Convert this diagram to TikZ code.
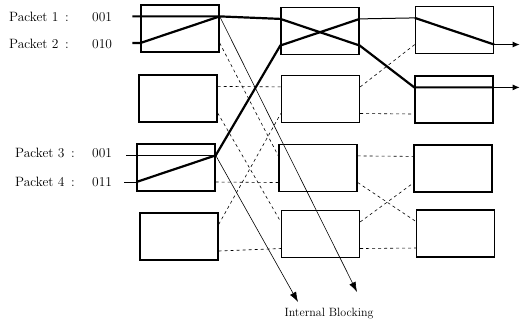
\documentclass[tikz,border=0pt]{standalone}
\usetikzlibrary{calc,arrows.meta}
\begin{document}
\begin{tikzpicture}[x=1pt,y=-1pt,
  sw/.style={draw, line width=1.4pt, minimum width=78pt, minimum height=47pt, inner sep=0pt},
  pkt/.style={line width=2.2pt},
  thinl/.style={line width=0.6pt},
  medl/.style={line width=1pt},
  dsh/.style={line width=0.6pt, dash pattern=on 3pt off 3pt},
  lbl/.style={font=\fontsize{13.5}{15}\selectfont, inner sep=0pt, anchor=west},
  ibtip/.style={-{Latex[length=10pt,width=7pt]}},
  outtip/.style={-{Latex[length=7pt,width=6pt]}}
]
\useasboundingbox (0,0) rectangle (520,323);

\node[sw] (a1) at (180,28.5) {};
\node[sw] (a2) at (178,98.5) {};
\node[sw] (a3) at (176,167.5) {};
\node[sw] (a4) at (179,236.5) {};
\node[sw] (b1) at (320,31) {};
\node[sw] (b2) at (320.5,99) {};
\node[sw] (b3) at (318,168) {};
\node[sw] (b4) at (320.5,234) {};
\node[sw] (c1) at (454.5,30) {};
\node[sw] (c2) at (454,99.5) {};
\node[sw] (c3) at (453,168.5) {};
\node[sw] (c4) at (455.5,233.5) {};

\foreach \b in {a1,a2,a3,a4,b1,b2,b3,b4,c1,c2,c3,c4} {
  \coordinate (\b-ui) at ($(\b.north west)!0.25!(\b.south west)$);
  \coordinate (\b-li) at ($(\b.north west)!0.8!(\b.south west)$);
  \coordinate (\b-uo) at ($(\b.north east)!0.25!(\b.south east)$);
  \coordinate (\b-lo) at ($(\b.north east)!0.8!(\b.south east)$);
}

% labels
\node[lbl] (t1) at (9,17) {Packet 1\ \,:};
\node[lbl] (v1) at (92,17) {001};
\node[lbl] (t2) at (9,44) {Packet 2\ \,:};
\node[lbl] (v2) at (92,44) {010};
\node[lbl] (t3) at (15,153) {Packet 3\ \,:};
\node[lbl] (v3) at (92,153) {001};
\node[lbl] (t4) at (15,182) {Packet 4\ \,:};
\node[lbl] (v4) at (92,182) {011};

% free ends
\coordinate (p1) at ($(a1-ui)+(-8,0)$);
\coordinate (p2) at ($(a1-li)+(-8,0)$);
\coordinate (p3) at ($(a3-ui)+(-10,0)$);
\coordinate (p4) at ($(a3-li)+(-12,0)$);
\coordinate (o1) at ($(c1-lo)+(25.5,0)$);
\coordinate (o2) at ($(c2-uo)+(26,0)$);
\coordinate (ib1) at (357,292);
\coordinate (ib2) at (298,302);

% dashed links stage 1 -> 2
\draw[dsh] (a1-lo) -- (b3-ui);
\draw[dsh] (a2-uo) -- (b2-ui);
\draw[dsh] (a2-lo) -- (b4-ui);
\draw[dsh] (a3-lo) -- (b3-li);
\draw[dsh] (a4-uo) -- (b2-li);
\draw[dsh] (a4-lo) -- (b4-li);
% dashed links stage 2 -> 3
\draw[dsh] (b2-uo) -- (c1-li);
\draw[dsh] (b2-lo) -- (c2-li);
\draw[dsh] (b3-uo) -- (c3-ui);
\draw[dsh] (b3-lo) -- (c4-ui);
\draw[dsh] (b4-uo) -- (c3-li);
\draw[dsh] (b4-lo) -- (c4-li);

% packet paths
\draw[pkt] (p1) -- (a1-ui) -- (a1-uo) -- (b1-ui) -- (b1-lo) -- (c2-ui) -- (c2-uo);
\draw[pkt] (p2) -- (a1-li) -- (a1-uo);
\draw[medl] (p3) -- (a3-ui) -- (a3-uo);
\draw[medl] (p4) -- (a3-li);
\draw[pkt] (a3-li) -- (a3-uo) -- (b1-li) -- (b1-uo);
\draw[medl] (b1-uo) -- (c1-ui);
\draw[pkt] (c1-ui) -- (c1-lo);
\draw[medl, outtip] (c1-lo) -- (o1);
\draw[medl, outtip] (c2-uo) -- (o2);

% internal blocking
\draw[thinl, ibtip] (a1-uo) -- (ib1);
\draw[thinl, ibtip] (a3-uo) -- (ib2);
\node[font=\fontsize{12}{14}\selectfont] (ibl) at (329,314) {Internal Blocking};
\end{tikzpicture}
\end{document}
